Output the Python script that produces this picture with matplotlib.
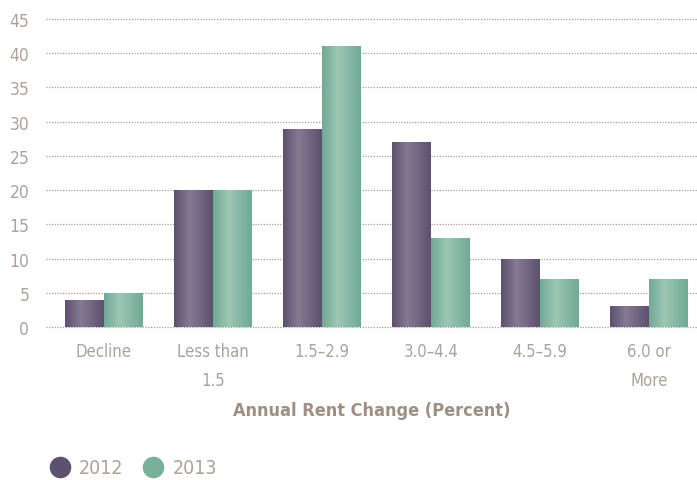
import numpy as np
import matplotlib
matplotlib.use("Agg")
import matplotlib.pyplot as plt
from matplotlib.colors import LinearSegmentedColormap
from matplotlib.lines import Line2D

categories = ["Decline", "Less than\n1.5", "1.5\u20132.9", "3.0\u20134.4", "4.5\u20135.9", "6.0 or\nMore"]
values_2012 = [4, 20, 29, 27, 10, 3]
values_2013 = [5, 20, 41, 13, 7, 7]
series_names = ["2012", "2013"]
yticks = [0, 5, 10, 15, 20, 25, 30, 35, 40, 45]

plt.rcParams['font.family'] = ['DejaVu Sans']
plt.rcParams['font.stretch'] = 'condensed'
plt.rcParams['font.weight'] = 'light'
text_col = "#ada198"

purple_cmap = LinearSegmentedColormap.from_list("p", [(0, "#5e506f"), (0.4, "#847a94"), (1, "#5e506f")])
green_cmap = LinearSegmentedColormap.from_list("g", [(0, "#70aa96"), (0.4, "#9dc6b5"), (1, "#70aa96")])

fig = plt.figure(figsize=(6.97, 4.81), dpi=100)
ax = fig.add_axes([46/697, (481-328)/481, 651/697, 308/481])

x = np.arange(len(categories))
w = 0.357
grad = np.linspace(0, 1, 64).reshape(1, -1)

for vals, off, cmap in [(values_2012, -w/2, purple_cmap), (values_2013, w/2, green_cmap)]:
    bars = ax.bar(x + off, vals, width=w, color="none", zorder=3)
    for b in bars:
        x0, y0 = b.get_x(), b.get_y()
        im = ax.imshow(grad, cmap=cmap, aspect="auto", zorder=3,
                       extent=[x0, x0 + b.get_width(), y0, y0 + b.get_height()])
        im.set_clip_path(b)

ax.set_xlim(-0.53, 5.44)
ax.set_ylim(0, 45)
ax.set_yticks(yticks)
for yv in yticks:
    ax.axhline(yv, color="#aa9d93", linestyle=(0, (1, 1.2)), linewidth=0.9, zorder=1, clip_on=False)
ax.set_xticks(x)
ax.set_xticklabels(categories, fontsize=12, color=text_col, linespacing=1.75)
ax.tick_params(axis="y", labelsize=12.5, colors=text_col, length=0, pad=12)
ax.tick_params(axis="x", length=0, pad=11, colors=text_col)
for s in ax.spines.values():
    s.set_visible(False)

ax.set_xlabel("Annual Rent Change (Percent)", fontsize=13, fontweight="bold",
              color="#9e8f84", labelpad=9)

handles = [Line2D([], [], marker="o", linestyle="none", markersize=14.5, markerfacecolor=c, markeredgecolor=c)
           for c in ["#5e506f", "#78b09c"]]
fig.legend(handles, series_names, loc="center left", bbox_to_anchor=(50/697, 12/481), ncol=2,
           frameon=False, fontsize=14, labelcolor=text_col, handlelength=1.0, handletextpad=0.5,
           columnspacing=1.0, borderpad=0, borderaxespad=0)

fig.savefig("out.png", dpi=100)
